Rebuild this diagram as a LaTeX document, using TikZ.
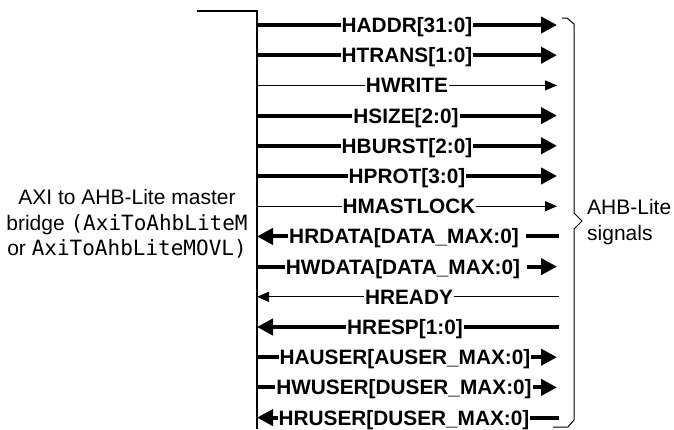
\documentclass[tikz,border=0pt]{standalone}
\usepackage{fontspec}
\setmainfont{Liberation Sans}
\newfontfamily\monof{DejaVu Sans Mono}
\usetikzlibrary{arrows.meta}
\begin{document}
\begin{tikzpicture}[x=1pt,y=-1pt,
  thk/.style={line width=4pt},
  thn/.style={line width=1pt},
  rA/.style={-{Triangle[length=16pt,width=16pt]}},
  lA/.style={{Triangle[length=16pt,width=16pt]}-},
  ra/.style={-{Triangle[length=12pt,width=10pt]}},
  la/.style={{Triangle[length=12pt,width=10pt]}-},
  sig/.style={fill=white, inner xsep=1pt, inner ysep=0pt, text height=15pt, text depth=4pt, anchor=base, font=\fontsize{20.8}{25}\selectfont\bfseries},
  txt/.style={font=\fontsize{21}{25.5}\selectfont, inner sep=0pt},
  frame/.style={line width=1.2pt},
  bracestyle/.style={line width=1pt, line join=miter}
]
\useasboundingbox (0,0) rectangle (674,429);
% block edge
\coordinate (tl) at (197,11);
\coordinate (tc) at (257,11);
\coordinate (bc) at (257,429);
\draw[frame] (tl) -- (tc) -- (bc);
% signals
\foreach \i/\lab/\w/\dir/\cx/\rx in {
  0/{HADDR[31:0]}/thk/rA/407/557,
  1/{HTRANS[1:0]}/thk/rA/407/557,
  2/{HWRITE}/thn/ra/407/557,
  3/{HSIZE[2:0]}/thk/rA/406/557,
  4/{HBURST[2:0]}/thk/rA/407/557,
  5/{HPROT[3:0]}/thk/rA/407/557,
  6/{HMASTLOCK}/thn/ra/409/557,
  7/{HRDATA[DATA\_MAX:0]\kern6pt}/thk/lA/407/559,
  8/{HWDATA[DATA\_MAX:0]\kern6pt}/thk/rA/406/557,
  9/{HREADY}/thn/la/409/559,
  10/{HRESP[1:0]}/thk/lA/405/559,
  11/{HAUSER[AUSER\_MAX:0]}/thk/rA/405/557,
  12/{HWUSER[DUSER\_MAX:0]}/thk/rA/404/557,
  13/{HRUSER[DUSER\_MAX:0]}/thk/lA/404/559}{
  \pgfmathsetmacro\yy{25+30.2*\i}
  \coordinate (L\i) at (257,\yy);
  \coordinate (R\i) at (\rx,\yy);
  \draw[\w,\dir] (L\i) -- (R\i);
  \node[sig] (s\i) at (\cx,\yy+7.45) {\lab};
}
% brace
\coordinate (b1) at (562,18);
\coordinate (b2) at (567,18);
\coordinate (b3) at (574,24);
\coordinate (b4) at (574,213);
\coordinate (b5) at (582,221);
\coordinate (b6) at (574,229);
\coordinate (b7) at (574,420);
\coordinate (b8) at (568,427);
\coordinate (b9) at (553,427);
\draw[bracestyle] (b1) -- (b2) -- (b3) -- (b4) -- (b5) -- (b6) -- (b7) -- (b8) -- (b9);
% labels
\node[txt, align=center] (bridge) at (127,224) {AXI to AHB-Lite master\\bridge {\monof(AxiToAhbLiteM}\\or {\monof AxiToAhbLiteMOVL)}};
\node[txt, align=left, anchor=west] (ahb) at (587,222) {AHB-Lite\\signals};
\end{tikzpicture}
\end{document}
